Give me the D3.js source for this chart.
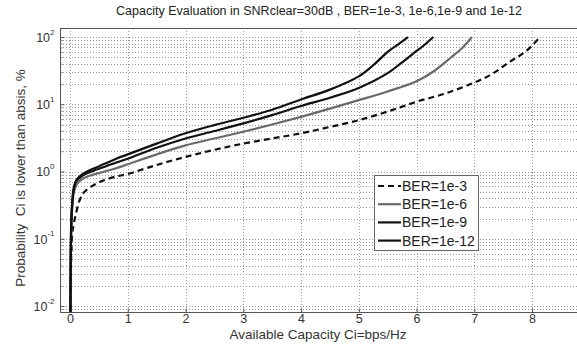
<!DOCTYPE html>
<html><head><meta charset="utf-8">
<script src="https://cdn.jsdelivr.net/npm/d3@7"></script>
<style>body{margin:0;background:#fff;}svg{display:block;font-family:"Liberation Sans",Arial,sans-serif;}</style>
</head><body>
<script>
const title = "Capacity Evaluation in SNRclear=30dB , BER=1e-3, 1e-6,1e-9 and 1e-12";
const xLabel = "Available Capacity Ci=bps/Hz";
const yLabel = "Probability\u00a0\u00a0Ci is lower than absis, %";
const xTicks = [0,1,2,3,4,5,6,7,8];
const yTickExps = [-2,-1,0,1,2];
const seriesNames = ["BER=1e-3","BER=1e-6","BER=1e-9","BER=1e-12"];

const c_1e3 = [0.01,0.02,0.04,0.05,0.09,0.17,0.25,0.4,0.6,0.8,1.0,1.5,2.0,2.5,3.0,3.5,4.0,4.5,5.0,5.5,6.0,6.5,7.0,7.3,7.6,7.9,8.14];
const p_1e3 = [0.0082,0.05,0.12,0.14,0.21,0.38,0.5,0.62,0.75,0.84,0.92,1.25,1.65,2.1,2.6,3.1,3.7,4.6,5.8,7.8,10.9,14.5,21,28,42,62,100];

const c_1e6 = [0.008,0.014,0.025,0.04,0.07,0.12,0.2,0.35,0.6,0.8,1.0,1.5,2.0,2.5,3.0,3.5,4.0,4.5,5.0,5.5,6.0,6.3,6.6,6.8,6.96];
const p_1e6 = [0.0082,0.05,0.15,0.3,0.5,0.65,0.76,0.87,1.0,1.12,1.28,1.8,2.45,3.1,3.9,5.0,6.5,8.6,11.5,15.5,22,31,50,70,100];

const c_1e9 = [0.008,0.012,0.02,0.035,0.06,0.1,0.15,0.25,0.4,0.6,0.8,1.0,1.5,2.0,2.5,3.0,3.5,4.0,4.5,5.0,5.5,5.75,6.0,6.15,6.29];
const p_1e9 = [0.0082,0.05,0.15,0.3,0.52,0.7,0.78,0.9,1.02,1.18,1.36,1.55,2.25,3.1,4.0,5.2,6.9,9.4,12.5,17.5,29,42,62,78,100];

const c_1e12 = [0.008,0.012,0.02,0.035,0.06,0.1,0.15,0.25,0.4,0.6,0.8,1.0,1.5,2.0,2.5,3.0,3.5,4.0,4.5,5.0,5.25,5.5,5.7,5.85];
const p_1e12 = [0.0082,0.05,0.15,0.3,0.53,0.72,0.82,0.95,1.1,1.3,1.55,1.8,2.6,3.7,4.9,6.3,8.3,11.8,16.5,26,38,60,80,100];

const seriesC = [c_1e3,c_1e6,c_1e9,c_1e12];
const seriesP = [p_1e3,p_1e6,p_1e9,p_1e12];
const seriesColor = ["#111","#6a6a6a","#111","#111"];
const seriesDash = ["6,4",null,null,null];

const W=577,H=349;
const m={left:60,top:28,right:580,bottom:312};
const svg=d3.select("body").append("svg").attr("width",W).attr("height",H);
const x=d3.scaleLinear().domain([-0.173,8.83]).range([m.left,m.right]);
const y=d3.scaleLog().domain([Math.pow(10,-2.089),Math.pow(10,2.134)]).range([m.bottom,m.top]);

const defs=svg.append("defs");
defs.append("clipPath").attr("id","clip").append("rect").attr("x",m.left).attr("y",m.top).attr("width",m.right-m.left).attr("height",m.bottom-m.top);

const g=svg.append("g");
const yGrid=[];
for(let e=-3;e<=2;e++){for(let k=1;k<=9;k++){const v=k*Math.pow(10,e);if(v>=y.domain()[0]&&v<=y.domain()[1])yGrid.push(v);}}
g.append("g").attr("clip-path","url(#clip)").selectAll("line").data(yGrid).join("line")
 .attr("x1",m.left).attr("x2",m.right).attr("y1",d=>Math.round(y(d))+0.5).attr("y2",d=>Math.round(y(d))+0.5)
 .attr("stroke","#9a9a9a").attr("stroke-width",1).attr("stroke-dasharray","1,2");
g.append("g").attr("clip-path","url(#clip)").selectAll("line").data(xTicks).join("line")
 .attr("y1",m.top).attr("y2",m.bottom).attr("x1",d=>Math.round(x(d))+0.5).attr("x2",d=>Math.round(x(d))+0.5)
 .attr("stroke","#9a9a9a").attr("stroke-width",1).attr("stroke-dasharray","1,2");

svg.append("rect").attr("x",m.left+0.5).attr("y",m.top+0.5).attr("width",m.right-m.left).attr("height",m.bottom-m.top)
 .attr("fill","none").attr("stroke","#555").attr("stroke-width",1);

const xAxis=d3.axisBottom(x).tickValues(xTicks).tickSize(-4).tickPadding(2).tickFormat(d3.format("d"));
const xa=svg.append("g").attr("transform",`translate(0,${m.bottom+0.5})`).call(xAxis);
xa.select(".domain").remove();
xa.selectAll(".tick line").attr("stroke","#555");
xa.selectAll("text").attr("font-size",12.5).attr("fill","#333").attr("font-family","Liberation Sans, Arial, sans-serif");

const yMajor=yTickExps.map(e=>Math.pow(10,e));
const yAxis=d3.axisLeft(y).tickValues(yMajor).tickSize(-4).tickPadding(8).tickFormat("");
const ya=svg.append("g").attr("transform",`translate(${m.left+0.5},0)`).call(yAxis);
ya.select(".domain").remove();
ya.selectAll(".tick line").attr("stroke","#555");
const yMinorAxis=d3.axisLeft(y).tickValues(yGrid.filter(v=>!yMajor.includes(v))).tickSize(-2).tickFormat("");
const ym=svg.append("g").attr("transform",`translate(${m.left+0.5},0)`).call(yMinorAxis);
ym.select(".domain").remove();ym.selectAll(".tick line").attr("stroke","#777");
ya.selectAll(".tick").each(function(d,i){
  const t=d3.select(this).append("text").attr("x",-6).attr("dy","0.35em").attr("text-anchor","end")
    .attr("fill","#333").attr("font-size",12.5).attr("font-family","Liberation Sans, Arial, sans-serif");
  t.append("tspan").text("10");
  t.append("tspan").attr("font-size",8).attr("dy","-0.9em").text(yTickExps[i]);
});

const lg=svg.append("g").attr("clip-path","url(#clip)");
seriesNames.forEach((n,i)=>{
  const pts=seriesC[i].map((c,j)=>[c,seriesP[i][j]]);
  lg.append("path").datum(pts).attr("d",d3.line().x(d=>x(d[0])).y(d=>y(d[1])).curve(d3.curveCatmullRom.alpha(0.5)))
   .attr("fill","none").attr("stroke",seriesColor[i]).attr("stroke-width",2.2)
   .attr("stroke-dasharray",seriesDash[i]).attr("stroke-linejoin","round");
});

svg.append("text").attr("x",319).attr("y",15).attr("text-anchor","middle").attr("font-size",12.5).attr("fill","#222").text(title);
svg.append("text").attr("x",318).attr("y",339).attr("text-anchor","middle").attr("font-size",13.5).attr("fill","#333").text(xLabel);
svg.append("text").attr("transform","translate(25,178) rotate(-90)").attr("text-anchor","middle").attr("font-size",13.5).attr("fill","#333").text(yLabel);

const leg=svg.append("g");
leg.append("rect").attr("x",374.5).attr("y",175.5).attr("width",104).attr("height",75).attr("fill","#fff").attr("stroke","#666");
seriesNames.forEach((n,i)=>{
  const yy=186+i*18.2;
  leg.append("line").attr("x1",378).attr("x2",401).attr("y1",yy).attr("y2",yy).attr("stroke",seriesColor[i]).attr("stroke-width",2.2).attr("stroke-dasharray",seriesDash[i]);
  leg.append("text").attr("x",402).attr("y",yy).attr("dy","0.35em").attr("font-size",14).attr("fill","#222").text(n);
});
</script>
</body></html>
